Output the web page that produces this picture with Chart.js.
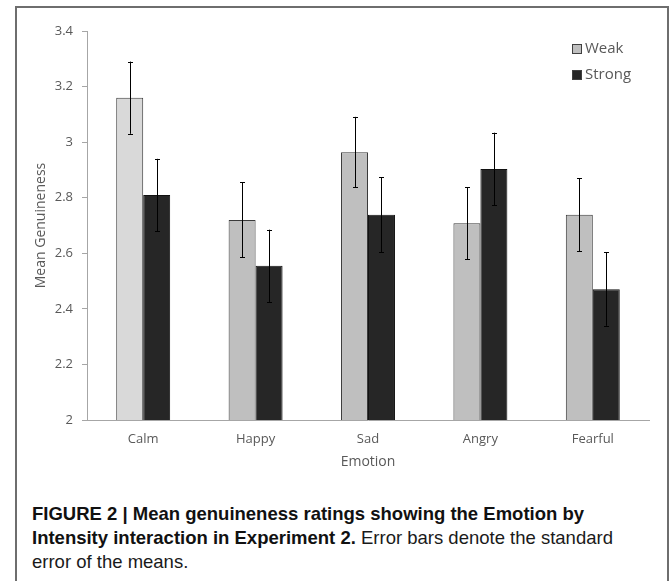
<!DOCTYPE html>
<html>
<head>
<meta charset="utf-8">
<script src="https://cdn.jsdelivr.net/npm/chart.js@4.4.1/dist/chart.umd.min.js"></script>
<style>
  body { margin: 0; background: #fff; }
  #wrap { position: relative; width: 670px; height: 581px; overflow: hidden; }
  #frame { position: absolute; left: 15px; top: 6px; width: 650px; height: 600px; border: 2px solid #6e6e6e; }
  #chartBox { position: absolute; left: 0; top: 0; width: 670px; height: 480px; }
  #caption { position: absolute; left: 32px; top: 502px; font-family: "Liberation Sans", sans-serif; font-size: 18.5px; line-height: 24px; color: #1a1a1a; white-space: nowrap; }
  #caption b { font-weight: bold; color: #111; }
</style>
</head>
<body>
<div id="wrap">
  <div id="frame"></div>
  <div id="chartBox"><canvas id="myChart" width="670" height="480"></canvas></div>
  <div id="caption">
    <b>FIGURE 2 | Mean genuineness ratings showing the Emotion by</b><br>
    <b>Intensity interaction in Experiment 2.</b> Error bars denote the standard<br>
    error of the means.
  </div>
</div>
<script>
const emotions = ['Calm', 'Happy', 'Sad', 'Angry', 'Fearful'];
const weakMeans = [3.16, 2.72, 2.964, 2.708, 2.739];
const weakErrors = [0.13, 0.135, 0.127, 0.13, 0.131];
const strongMeans = [2.81, 2.555, 2.739, 2.903, 2.471];
const strongErrors = [0.13, 0.13, 0.135, 0.131, 0.132];

const textGrey = '#595959';
const axisGrey = '#a6a6a6';

// error bars drawn from the bar elements and the y scale
const errorBars = {
    id: 'errorBars',
    afterDatasetsDraw(chart) {
        const ctx = chart.ctx;
        const yScale = chart.scales.y;
        ctx.save();
        ctx.strokeStyle = '#000';
        ctx.lineWidth = 1;
        chart.data.datasets.forEach((ds, i) => {
            chart.getDatasetMeta(i).data.forEach((bar, j) => {
                const x = Math.round(bar.x) + 0.5;
                const top = yScale.getPixelForValue(ds.data[j] + ds.errors[j]);
                const bottom = yScale.getPixelForValue(ds.data[j] - ds.errors[j]);
                ctx.beginPath();
                ctx.moveTo(x, top);
                ctx.lineTo(x, bottom);
                ctx.moveTo(x - 2.5, Math.round(top) + 0.5);
                ctx.lineTo(x + 2.5, Math.round(top) + 0.5);
                ctx.moveTo(x - 2.5, Math.round(bottom) + 0.5);
                ctx.lineTo(x + 2.5, Math.round(bottom) + 0.5);
                ctx.stroke();
            });
        });
        ctx.restore();
    }
};

// legend in the top right corner, square boxes
const cornerLegend = {
    id: 'cornerLegend',
    afterDraw(chart) {
        const ctx = chart.ctx;
        ctx.save();
        ctx.font = '15px "Open Sans"';
        ctx.textBaseline = 'middle';
        chart.data.datasets.forEach((ds, i) => {
            const y = 49 + i * 26;
            ctx.fillStyle = ds.legendColor;
            ctx.fillRect(572.5, y - 4.5, 9, 9);
            ctx.strokeStyle = '#404040';
            ctx.lineWidth = 1;
            ctx.strokeRect(572.5, y - 4.5, 9, 9);
            ctx.fillStyle = textGrey;
            ctx.fillText(ds.label, 585, y);
        });
        ctx.restore();
    }
};

new Chart(document.getElementById('myChart'), {
    type: 'bar',
    data: {
        labels: emotions,
        datasets: [
            {
                label: 'Weak',
                data: weakMeans,
                errors: weakErrors,
                backgroundColor: emotions.map((e, i) => i === 0 ? '#d9d9d9' : '#bfbfbf'),
                legendColor: '#bfbfbf',
                borderColor: '#3a3a3a',
                borderWidth: 1,
            },
            {
                label: 'Strong',
                data: strongMeans,
                errors: strongErrors,
                backgroundColor: '#262626',
                legendColor: '#262626',
                borderColor: '#111',
                borderWidth: 1,
            }
        ],
    },
    options: {
        responsive: false,
        animation: false,
        datasets: {
            bar: { categoryPercentage: 0.48, barPercentage: 1 }
        },
        layout: {
            padding: { left: 24, right: 21, top: 31, bottom: 9.6 }
        },
        plugins: {
            legend: { display: false },
            tooltip: { enabled: false },
        },
        scales: {
            x: {
                afterFit(scale) { scale.height = 50.4; },
                grid: { display: false, drawTicks: false },
                border: { color: axisGrey, width: 1 },
                ticks: {
                    padding: 11,
                    color: textGrey,
                    font: { family: 'Open Sans', size: 13 },
                },
                title: {
                    display: true,
                    text: 'Emotion',
                    color: textGrey,
                    font: { family: 'Open Sans', size: 14 },
                    padding: { top: 7, bottom: 0 },
                },
            },
            y: {
                min: 2,
                max: 3.4,
                afterFit(scale) { scale.width = 63; },
                grid: { drawOnChartArea: false, drawTicks: true, tickLength: 5, color: axisGrey },
                border: { color: axisGrey, width: 1 },
                ticks: {
                    stepSize: 0.2,
                    padding: 9,
                    color: textGrey,
                    font: { family: 'Open Sans', size: 13 },
                    callback: (v) => String(Number(v.toFixed(1))),
                },
                title: {
                    display: true,
                    text: 'Mean Genuineness',
                    color: textGrey,
                    font: { family: 'Open Sans', size: 14 },
                    padding: { top: 8.6, bottom: 0 },
                },
            }
        }
    },
    plugins: [errorBars, cornerLegend]
});
</script>
</body>
</html>
